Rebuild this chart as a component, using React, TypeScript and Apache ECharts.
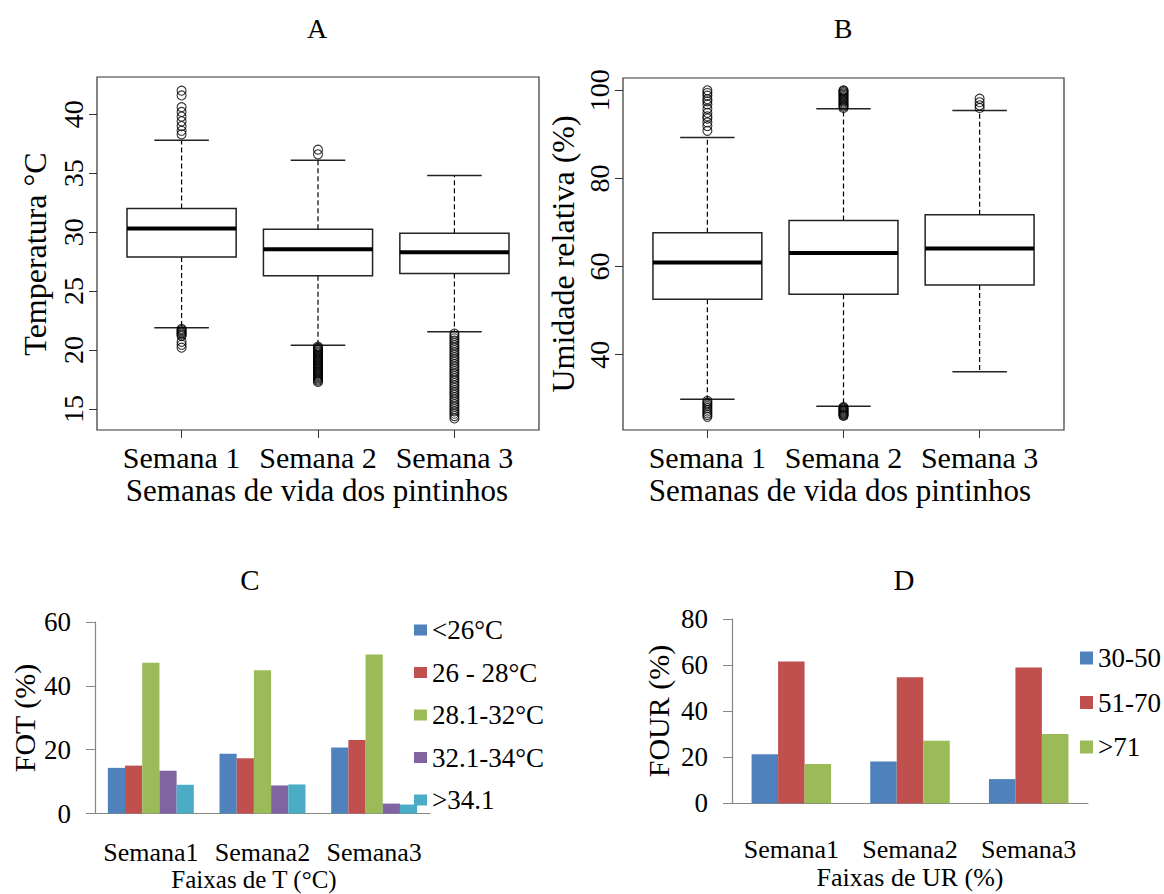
import React, { useEffect, useRef } from 'react';
import * as echarts from 'echarts';

const FONT = 'Liberation Serif';

// Panels A and B: box plots
const weekLabels = ['Semana 1', 'Semana 2', 'Semana 3'];
const tempTicks = [15, 20, 25, 30, 35, 40];
const humTicks = [40, 60, 80, 100];
// [lower whisker, Q1, median, Q3, upper whisker]
const tempStats = [
  [21.9, 27.9, 30.3, 32.0, 37.8],
  [20.4, 26.3, 28.55, 30.25, 36.1],
  [21.55, 26.5, 28.3, 29.9, 34.8],
];
const humStats = [
  [29.9, 52.6, 60.9, 67.7, 89.3],
  [28.3, 53.7, 63.05, 70.45, 95.8],
  [36.1, 55.8, 64.1, 71.75, 95.4],
];
const tempOut1 = [42.0, 41.6, 40.6, 40.2, 39.8, 39.4, 39.0, 38.6, 38.3, 21.8, 21.7, 21.6, 21.5, 21.4, 21.3, 21.2, 20.7, 20.45, 20.2];
const tempOut2 = [37.0, 36.6, 20.3, 20.2, 20.1, 20.0, 19.9, 19.8, 19.7, 19.6, 19.5, 19.4, 19.3, 19.2, 19.1, 19.0, 18.9, 18.8, 18.7, 18.6, 18.5, 18.4, 18.3, 18.2, 18.1, 18.0, 17.9, 17.8, 17.7, 17.6, 17.5, 17.4, 17.3];
const tempOut3 = [21.4, 21.2, 21.0, 20.8, 20.6, 20.4, 20.2, 20.0, 19.8, 19.6, 19.4, 19.2, 19.0, 18.8, 18.6, 18.4, 18.2, 18.0, 17.8, 17.6, 17.4, 17.2, 17.0, 16.8, 16.6, 16.4, 16.2, 16.0, 15.8, 15.6, 15.4, 15.2, 15.0, 14.8, 14.6, 14.4, 14.2];
const humOut1 = [100.0, 99.4, 98.8, 98.0, 97.5, 96.8, 95.8, 94.9, 94.1, 93.6, 92.7, 91.9, 90.8, 29.5, 29.1, 28.7, 28.3, 27.9, 27.5, 27.1, 26.7, 26.3, 25.9];
const humOut2 = [96.0, 96.3, 96.6, 96.9, 97.2, 97.5, 97.8, 98.1, 98.4, 98.7, 99.0, 99.3, 99.6, 99.9, 100.0, 28.1, 27.9, 27.7, 27.5, 27.3, 27.1, 26.9, 26.7, 26.5, 26.3, 26.1];
const humOut3 = [98.1, 97.3, 96.6, 96.0];

// Panel C: FOT (%)
const barWeeks = ['Semana1', 'Semana2', 'Semana3'];
const tNames = ['<26°C', '26 - 28°C', '28.1-32°C', '32.1-34°C', '>34.1'];
const tLt26 = [14.3, 18.7, 20.7];
const t26to28 = [15.0, 17.3, 23.0];
const t28to32 = [47.2, 44.9, 49.8];
const t32to34 = [13.4, 8.8, 3.1];
const tGt34 = [9.0, 9.1, 2.8];
const tValues = [tLt26, t26to28, t28to32, t32to34, tGt34];

// Panel D: FOUR (%)
const urNames = ['30-50', '51-70', '>71'];
const ur30to50 = [21.3, 18.1, 10.5];
const ur51to70 = [61.6, 54.7, 58.9];
const urGt71 = [17.1, 27.2, 30.1];
const urValues = [ur30to50, ur51to70, urGt71];

const palette = ['#4F81BD', '#C0504D', '#9BBB59', '#8064A2', '#4BACC6'];

function boxRender(params: any, api: any) {
  const x = api.value(0);
  const lo = api.coord([x, api.value(1)]);
  const q1 = api.coord([x, api.value(2)]);
  const md = api.coord([x, api.value(3)]);
  const q3 = api.coord([x, api.value(4)]);
  const hi = api.coord([x, api.value(5)]);
  const w = api.size([0.8, 0])[0];
  const cx = md[0];
  const half = w / 2;
  const cap = w / 4;
  const dash = { stroke: '#000', lineWidth: 1.2, lineDash: [5, 3] };
  const solid = { stroke: '#222', lineWidth: 1.5 };
  return {
    type: 'group',
    children: [
      { type: 'line', shape: { x1: cx, y1: q3[1], x2: cx, y2: hi[1] }, style: dash },
      { type: 'line', shape: { x1: cx, y1: q1[1], x2: cx, y2: lo[1] }, style: dash },
      { type: 'line', shape: { x1: cx - cap, y1: hi[1], x2: cx + cap, y2: hi[1] }, style: solid },
      { type: 'line', shape: { x1: cx - cap, y1: lo[1], x2: cx + cap, y2: lo[1] }, style: solid },
      { type: 'rect', shape: { x: cx - half, y: q3[1], width: w, height: q1[1] - q3[1] }, style: { fill: '#fff', stroke: '#222', lineWidth: 1.5 } },
      { type: 'line', shape: { x1: cx - half, y1: md[1], x2: cx + half, y2: md[1] }, style: { stroke: '#000', lineWidth: 4 } },
    ],
  };
}

function outlierData(lists: number[][]) {
  const out: number[][] = [];
  lists.forEach((l, i) => l.forEach((v) => out.push([i + 1, v])));
  return out;
}

const labelFont = { fontFamily: FONT, color: '#000' };

function boxXAxis(gridIndex: number) {
  return {
    gridIndex,
    type: 'value',
    min: 0.38,
    max: 3.62,
    axisLine: { show: false },
    splitLine: { show: false },
    axisTick: { show: true, length: 8, customValues: [1, 2, 3], lineStyle: { color: '#333' } },
    axisLabel: {
      customValues: [1, 2, 3],
      formatter: (v: number) => weekLabels[Math.round(v) - 1] || '',
      fontSize: 30,
      margin: 12,
      ...labelFont,
    },
  };
}

function boxYAxis(gridIndex: number, min: number, max: number, ticks: number[]) {
  return {
    gridIndex,
    type: 'value',
    min,
    max,
    axisLine: { show: false },
    splitLine: { show: false },
    axisTick: { show: true, length: 8, customValues: ticks, lineStyle: { color: '#333' } },
    axisLabel: {
      customValues: ticks,
      rotate: 90,
      fontSize: 28,
      margin: 10,
      ...labelFont,
    },
  };
}

function barXAxis(gridIndex: number, margin: number) {
  return {
    gridIndex,
    type: 'category',
    data: barWeeks,
    axisLine: { show: true, lineStyle: { color: '#868686', width: 1.2 } },
    axisTick: { show: false },
    axisLabel: { fontSize: 26, margin, interval: 0, ...labelFont },
  };
}

function barYAxis(gridIndex: number, max: number) {
  return {
    gridIndex,
    type: 'value',
    min: 0,
    max,
    interval: 20,
    axisLine: { show: true, lineStyle: { color: '#868686', width: 1.2 } },
    axisTick: { show: true, length: 9, lineStyle: { color: '#868686' } },
    splitLine: { show: false },
    axisLabel: { fontSize: 27, margin: 24, ...labelFont },
  };
}

function txt(text: string, x: number, y: number, size: number, rotate = 0) {
  return {
    type: 'text',
    x,
    y,
    rotation: rotate,
    style: {
      text,
      fontSize: size,
      fontFamily: FONT,
      fill: '#000',
      align: 'center',
      verticalAlign: 'middle',
    },
  };
}

const outlierStyle = { color: 'rgba(0,0,0,0)', borderColor: '#000', borderWidth: 1.1 };

const option: any = {
  animation: false,
  backgroundColor: '#fff',
  textStyle: { fontFamily: FONT },
  grid: [
    { left: 97, top: 77, width: 442, height: 353, show: true, borderColor: '#333', borderWidth: 1.2, backgroundColor: 'transparent' },
    { left: 623, top: 78, width: 441, height: 352, show: true, borderColor: '#333', borderWidth: 1.2, backgroundColor: 'transparent' },
    { left: 95, top: 622, width: 335, height: 191.5 },
    { left: 732, top: 619, width: 356, height: 184.3 },
  ],
  xAxis: [boxXAxis(0), boxXAxis(1), barXAxis(2, 26), barXAxis(3, 33)],
  yAxis: [
    boxYAxis(0, 13.22, 43.16, tempTicks),
    boxYAxis(1, 22.9, 102.8, humTicks),
    barYAxis(2, 60),
    barYAxis(3, 80),
  ],
  legend: [
    {
      data: tNames,
      orient: 'vertical',
      left: 409,
      top: 610,
      itemWidth: 13,
      itemHeight: 11,
      itemGap: 12.5,
      icon: 'rect',
      textStyle: { fontSize: 27, fontFamily: FONT, color: '#000', lineHeight: 30 },
    },
    {
      data: urNames,
      orient: 'vertical',
      left: 1075,
      top: 638,
      itemWidth: 13,
      itemHeight: 13,
      itemGap: 14.5,
      icon: 'rect',
      textStyle: { fontSize: 27, fontFamily: FONT, color: '#000', lineHeight: 30 },
    },
  ],
  graphic: [
    txt('A', 317, 28, 28),
    txt('B', 843, 28, 28),
    txt('C', 250, 580, 29),
    txt('D', 904, 580, 29),
    txt('Temperatura °C', 35, 254, 32, Math.PI / 2),
    txt('Umidade relativa (%)', 563, 254, 32, Math.PI / 2),
    txt('Semanas de vida dos pintinhos', 317, 490, 31),
    txt('Semanas de vida dos pintinhos', 840, 490, 31),
    txt('FOT (%)', 24, 718, 30, Math.PI / 2),
    txt('FOUR (%)', 658, 711, 30, Math.PI / 2),
    txt('Faixas de T (°C)', 254, 879, 25),
    txt('Faixas de UR (%)', 910, 877, 26),
  ],
  series: [
    {
      type: 'custom',
      xAxisIndex: 0,
      yAxisIndex: 0,
      renderItem: boxRender,
      encode: { x: 0, y: [1, 2, 3, 4, 5] },
      data: tempStats.map((s, i) => [i + 1, ...s]),
      z: 2,
    },
    {
      type: 'scatter',
      xAxisIndex: 0,
      yAxisIndex: 0,
      symbol: 'circle',
      symbolSize: 9,
      itemStyle: outlierStyle,
      data: outlierData([tempOut1, tempOut2, tempOut3]),
      z: 3,
    },
    {
      type: 'custom',
      xAxisIndex: 1,
      yAxisIndex: 1,
      renderItem: boxRender,
      encode: { x: 0, y: [1, 2, 3, 4, 5] },
      data: humStats.map((s, i) => [i + 1, ...s]),
      z: 2,
    },
    {
      type: 'scatter',
      xAxisIndex: 1,
      yAxisIndex: 1,
      symbol: 'circle',
      symbolSize: 9,
      itemStyle: outlierStyle,
      data: outlierData([humOut1, humOut2, humOut3]),
      z: 3,
    },
    ...tNames.map((name, i) => ({
      type: 'bar',
      name,
      xAxisIndex: 2,
      yAxisIndex: 2,
      data: tValues[i],
      barGap: '0%',
      barCategoryGap: '23%',
      itemStyle: { color: palette[i] },
    })),
    ...urNames.map((name, i) => ({
      type: 'bar',
      name,
      xAxisIndex: 3,
      yAxisIndex: 3,
      data: urValues[i],
      barGap: '0%',
      barCategoryGap: '33%',
      itemStyle: { color: palette[i] },
    })),
  ],
};

export default function App() {
  const ref = useRef<HTMLDivElement>(null);
  useEffect(() => {
    const chart = echarts.init(ref.current as HTMLDivElement, null, { renderer: 'svg' });
    chart.setOption(option);
    return () => chart.dispose();
  }, []);
  return (
    <div
      ref={ref}
      style={{ position: 'fixed', left: 0, top: 0, width: 1164, height: 894, background: '#fff' }}
    />
  );
}
